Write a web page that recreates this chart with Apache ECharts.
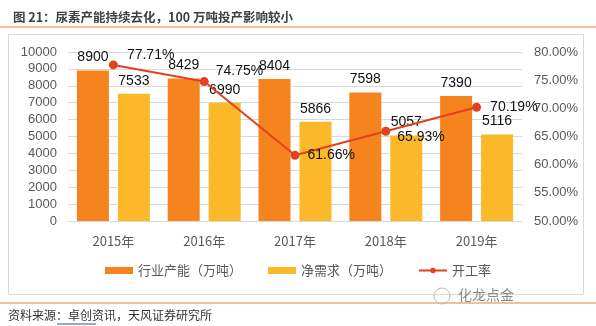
<!DOCTYPE html>
<html><head><meta charset="utf-8">
<script src="https://cdn.jsdelivr.net/npm/echarts@6/dist/echarts.min.js"></script>
<style>html,body{margin:0;padding:0;background:#fff}#c{width:596px;height:326px}</style>
</head><body><div id="c"></div>
<script>
const categories = ['2015年','2016年','2017年','2018年','2019年'];
const capacity = [8900, 8429, 8404, 7598, 7390];
const demand = [7533, 6990, 5866, 5057, 5116];
const rate = [77.71, 74.75, 61.66, 65.93, 70.19];
const rateOffsets = [[4,-10],[2,-10],[3,0],[2,6],[4,0]];

const chart = echarts.init(document.getElementById('c'));
const txt = '#595959';
chart.setOption({
  animation: false,
  title: {
    text: '图 21：尿素产能持续去化，100 万吨投产影响较小',
    left: 8, top: 6,
    textStyle: {fontSize: 12.5, fontWeight: 'bold', color: '#404040', fontFamily: 'Noto Sans CJK SC'}
  },
  graphic: [
    {type: 'line', shape: {x1: 0, y1: 27, x2: 596, y2: 27}, style: {stroke: '#ED7D31', lineWidth: 1}},
    {type: 'rect', shape: {x: 8.5, y: 34.5, width: 575, height: 260}, style: {fill: 'none', stroke: '#d9d9d9', lineWidth: 1}, z: -1},
    {type: 'line', shape: {x1: 0, y1: 303, x2: 596, y2: 303}, style: {stroke: '#ED7D31', lineWidth: 1}},
    {type: 'text', left: 8, top: 309, style: {text: '资料来源：卓创资讯，天风证券研究所', fontSize: 12, fill: '#333', fontFamily: 'Noto Sans CJK SC'}},
    {type: 'line', shape: {x1: 57, y1: 324, x2: 96, y2: 324}, style: {stroke: '#2F5597', lineWidth: 1}},
    {type: 'circle', shape: {cx: 442, cy: 296, r: 8}, style: {fill: 'none', stroke: '#bbb', lineWidth: 1}},
    {type: 'text', left: 458, top: 288, style: {text: '化龙点金', fontSize: 14, fill: '#888', fontFamily: 'Noto Sans CJK SC'}}
  ],
  grid: {left: 68, right: 74, top: 52, bottom: 105},
  legend: {
    bottom: 44, left: 'center', itemWidth: 28, itemHeight: 7, itemGap: 26,
    textStyle: {fontSize: 13, color: txt, fontFamily: 'Noto Sans CJK SC'},
    data: [
      {name: '行业产能（万吨）', icon: 'rect'},
      {name: '净需求（万吨）', icon: 'rect'},
      {name: '开工率'}
    ]
  },
  xAxis: {
    type: 'category', data: categories,
    axisLine: {lineStyle: {color: '#d9d9d9'}}, axisTick: {show: false},
    axisLabel: {fontSize: 13, color: txt, margin: 14, fontFamily: 'Noto Sans CJK SC'}
  },
  yAxis: [
    {type: 'value', min: 0, max: 10000, interval: 1000,
     axisLine: {show: false}, axisTick: {show: false},
     splitLine: {lineStyle: {color: '#d9d9d9'}},
     axisLabel: {fontSize: 13, color: txt, margin: 11, fontFamily: 'Liberation Sans', formatter: v => String(v)}},
    {type: 'value', min: 50, max: 80, interval: 5,
     axisLine: {show: false}, axisTick: {show: false}, splitLine: {show: false},
     axisLabel: {fontSize: 13, color: txt, margin: 12, fontFamily: 'Liberation Sans',
       formatter: v => v.toFixed(2) + '%'}}
  ],
  series: [
    {name: '行业产能（万吨）', type: 'bar', data: capacity, barWidth: 32, barGap: '28%',
     itemStyle: {color: '#F5841F'},
     label: {show: true, position: 'top', distance: 6, fontSize: 14, color: '#111', fontFamily: 'Liberation Sans'}},
    {name: '净需求（万吨）', type: 'bar', data: demand, barWidth: 32, barGap: '28%',
     itemStyle: {color: '#FBB829'},
     label: {show: true, position: 'top', distance: 6, fontSize: 14, color: '#111', fontFamily: 'Liberation Sans'}},
    {name: '开工率', type: 'line', yAxisIndex: 1, z: 5,
     data: rate.map((v, i) => ({value: v, label: {offset: rateOffsets[i]}})),
     symbol: 'circle', symbolSize: 9,
     lineStyle: {color: '#E2411F', width: 2}, itemStyle: {color: '#E2411F'},
     label: {show: true, position: 'right', distance: 5, fontSize: 14, color: '#111', fontFamily: 'Liberation Sans',
       formatter: p => p.value.toFixed(2) + '%'}}
  ]
});
</script></body></html>
